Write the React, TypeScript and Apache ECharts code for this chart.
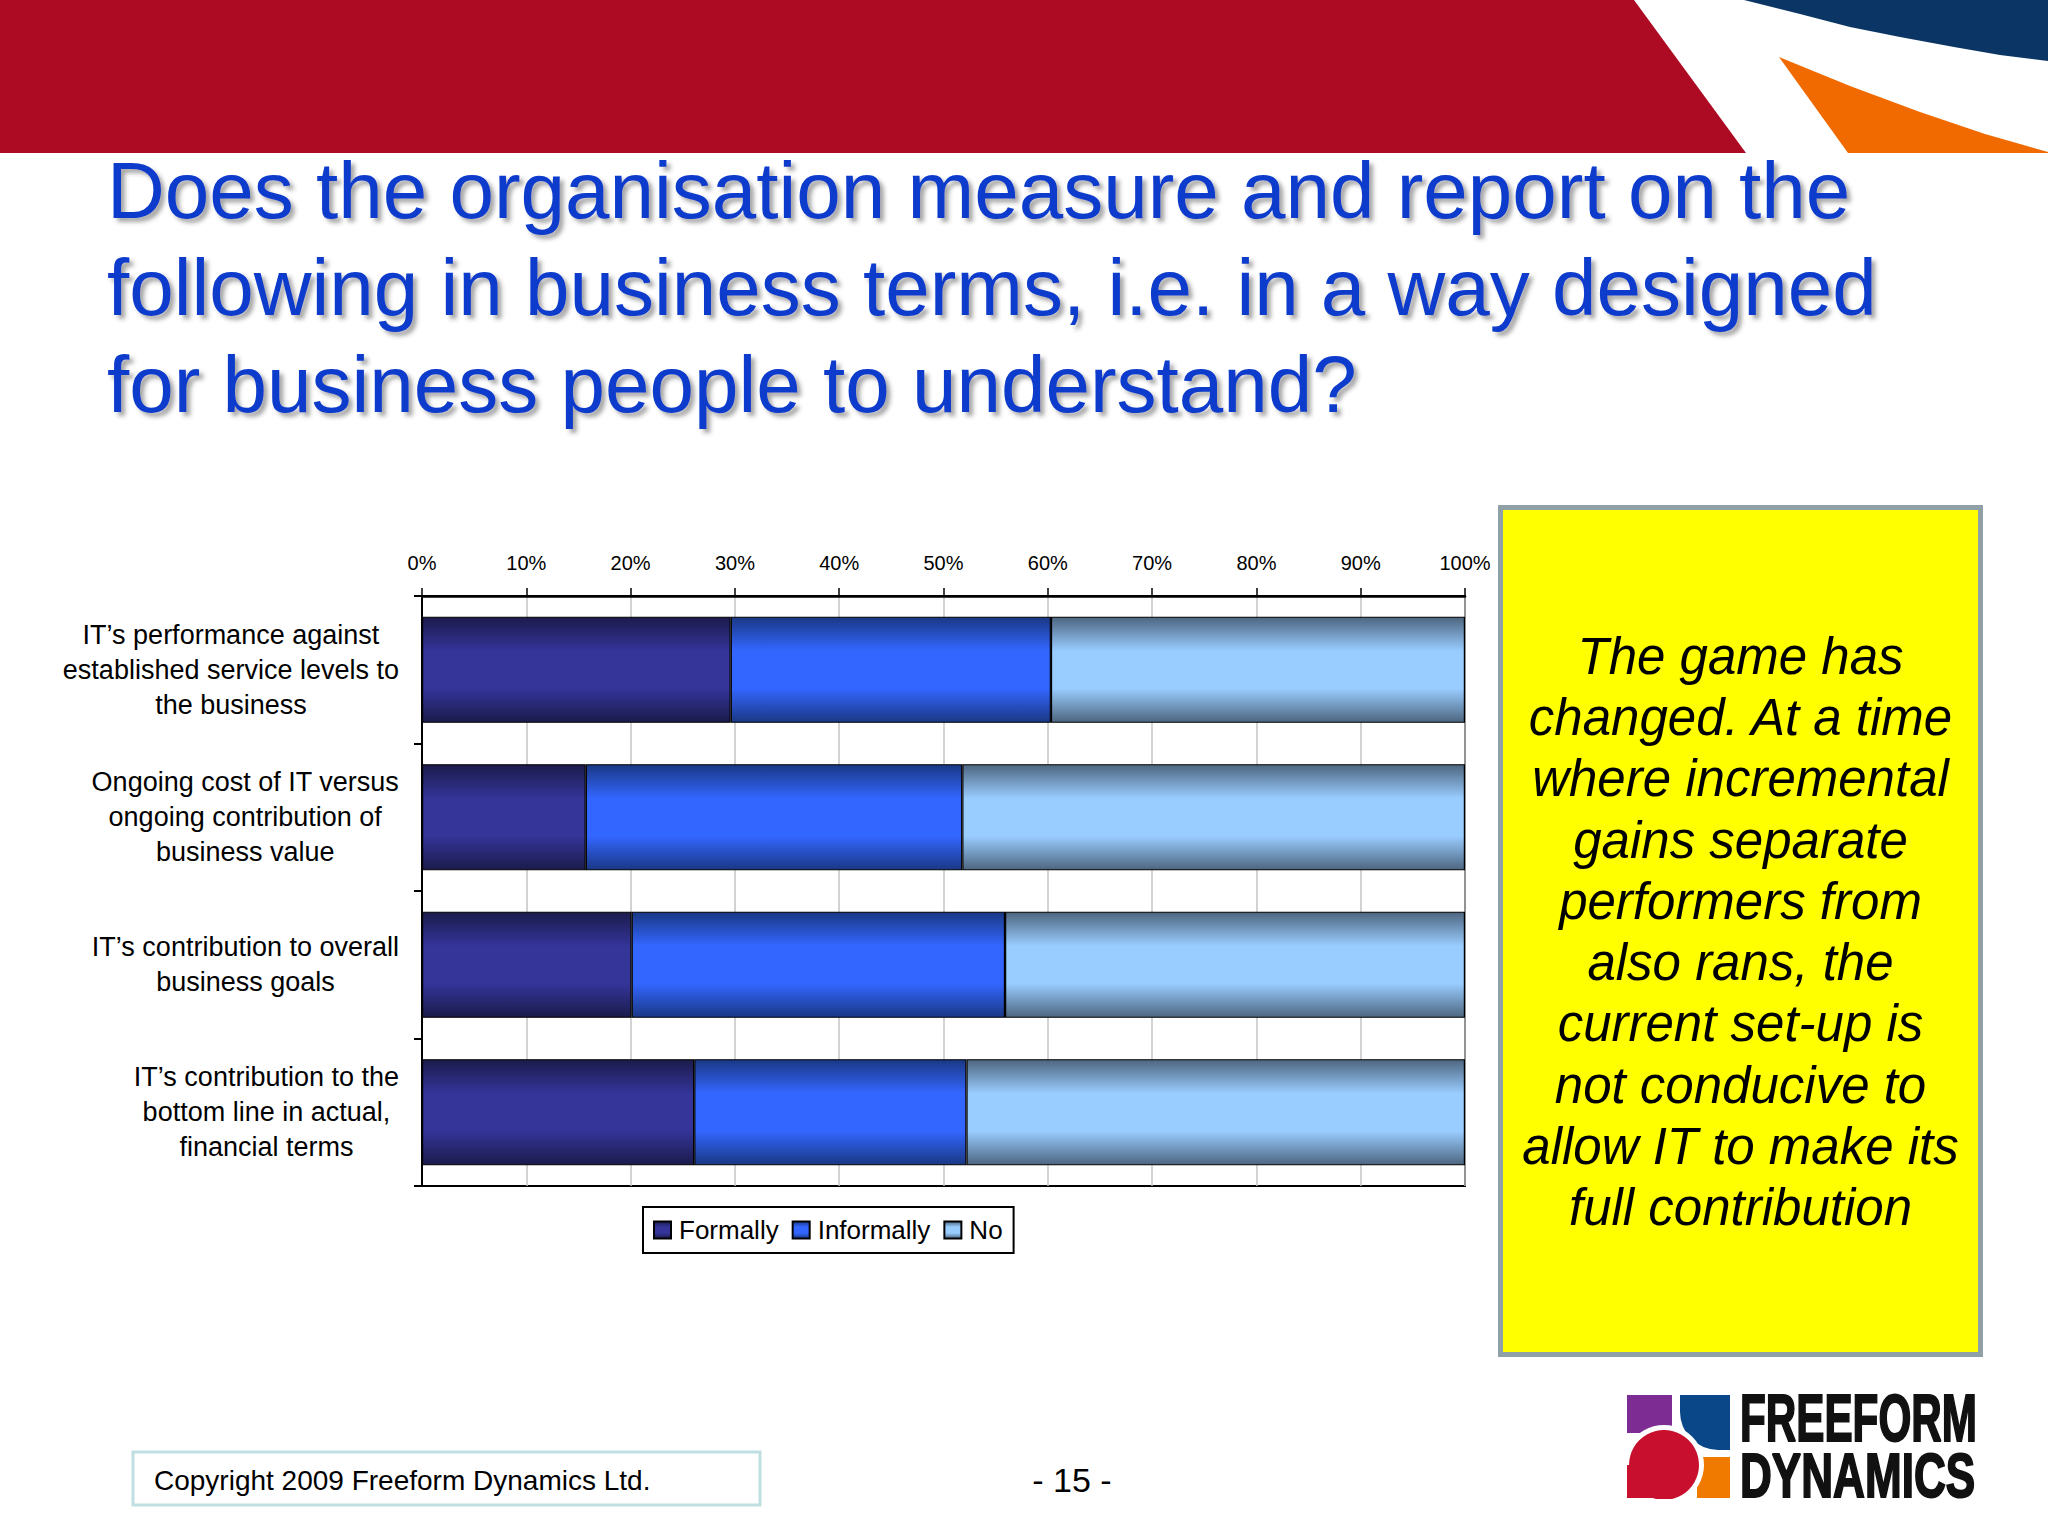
import React, { useEffect, useRef } from "react";
import * as echarts from "echarts";

const categories = [
  "IT’s performance against\nestablished service levels to\nthe business",
  "Ongoing cost of IT versus\nongoing contribution of\nbusiness value",
  "IT’s contribution to overall\nbusiness goals",
  "IT’s contribution to the\nbottom line in actual,\nfinancial terms",
];
const seriesNames = ["Formally", "Informally", "No"];
const formally = [29.6, 15.7, 20.1, 26.1];
const informally = [30.7, 36.1, 35.8, 26.1];
const no = [39.7, 48.2, 44.1, 47.8];

const titleLines = [
  "Does the organisation measure and report on the",
  "following in business terms, i.e. in a way designed",
  "for business people to understand?",
];
const calloutLines = [
  "The game has",
  "changed. At a time",
  "where incremental",
  "gains separate",
  "performers from",
  "also rans, the",
  "current set-up is",
  "not conducive to",
  "allow IT to make its",
  "full contribution",
];
const copyrightText = "Copyright 2009 Freeform Dynamics Ltd.";
const pageText = "- 15 -";

const FONT = "Liberation Sans, Arial, Helvetica, sans-serif";

function grad(edge: string, mid: string) {
  return new echarts.graphic.LinearGradient(0, 0, 0, 1, [
    { offset: 0, color: edge },
    { offset: 0.32, color: mid },
    { offset: 0.68, color: mid },
    { offset: 1, color: edge },
  ]);
}

export default function App() {
  const ref = useRef<HTMLDivElement>(null);
  useEffect(() => {
    document.body.style.margin = "0";
    const chart = echarts.init(ref.current!, null, { renderer: "svg" });
    const fills = [
      grad("#1b1b4c", "#343499"),
      grad("#1a3885", "#3366ff"),
      grad("#4d6680", "#99ccff"),
    ];
    const dataSets = [formally, informally, no];
    const txt = (x: number, y: number, style: any, extra: any = {}) => ({
      type: "text",
      x,
      y,
      ...extra,
      style: {
        fontFamily: FONT,
        fill: "#000",
        ...style,
        textAlign: style.align,
        textVerticalAlign: style.verticalAlign,
      },
    });
    const option: any = {
      animation: false,
      backgroundColor: "#ffffff",
      textStyle: { fontFamily: FONT },
      grid: {
        left: 422,
        top: 596,
        width: 1043,
        height: 590,
        containLabel: false,
        outerBoundsMode: "none",
        show: true,
        borderColor: "#000",
        borderWidth: 2,
        backgroundColor: "transparent",
      },
      xAxis: {
        type: "value",
        position: "top",
        min: 0,
        max: 100,
        interval: 10,
        axisLine: { show: true, lineStyle: { color: "#000", width: 2.5 } },
        axisTick: { show: true, length: 8, lineStyle: { color: "#000", width: 1.5 } },
        axisLabel: {
          formatter: "{value}%",
          fontSize: 20,
          color: "#000",
          margin: 23,
          fontFamily: FONT,
        },
        splitLine: { show: true, lineStyle: { color: "#c4c4c4", width: 1.5 } },
      },
      yAxis: {
        type: "category",
        data: categories,
        inverse: true,
        axisLine: { show: true, lineStyle: { color: "#000", width: 2 } },
        axisTick: { show: true, length: 8, lineStyle: { color: "#000", width: 2 } },
        axisLabel: {
          margin: 23,
          color: "#000",
          formatter: (v: string) => "{c|" + v + "}",
          rich: {
            c: {
              align: "center",
              fontSize: 27,
              lineHeight: 35,
              color: "#000",
              fontFamily: FONT,
            },
          },
        },
        splitLine: { show: false },
      },
      legend: {
        data: seriesNames,
        left: 643,
        top: 1207,
        orient: "horizontal",
        itemWidth: 17,
        itemHeight: 17,
        itemGap: 13,
        padding: [10, 11, 10, 10],
        borderColor: "#000",
        borderWidth: 2,
        icon: "rect",
        textStyle: { fontSize: 26, color: "#000", fontFamily: FONT, padding: [0, 0, 0, 3] },
      },
      series: seriesNames.map((name, i) => ({
        name,
        type: "bar",
        stack: "total",
        data: dataSets[i],
        barCategoryGap: "28%",
        itemStyle: { color: fills[i], borderColor: "#000", borderWidth: 1.2 },
        emphasis: { disabled: true },
      })),
      graphic: [
        // top banner
        {
          type: "polygon",
          shape: { points: [[0, 0], [1634, 0], [1746, 153], [0, 153]] },
          style: { fill: "#ad0b24" },
        },
        {
          type: "polygon",
          shape: {
            points: [[1744, 0], [1800, 14], [1850, 27], [1900, 37], [1954, 47], [2000, 55], [2048, 61], [2048, 0]],
          },
          style: { fill: "#0a3564" },
        },
        {
          type: "polygon",
          shape: {
            points: [[1779, 57], [1850, 86], [1920, 112], [1985, 134], [2048, 152], [2048, 153], [1848, 153]],
          },
          style: { fill: "#f06a00" },
        },
        // title
        txt(107, 287.6, {
          text: titleLines.join("\n"),
          fontSize: 80,
          lineHeight: 97,
          fill: "#0a3acc",
          align: "left",
          verticalAlign: "middle",
          textShadowColor: "rgba(60,60,60,0.45)",
          textShadowBlur: 4,
          textShadowOffsetX: 4,
          textShadowOffsetY: 4,
        }),
        // yellow callout
        {
          type: "rect",
          shape: { x: 1500.5, y: 507.5, width: 480, height: 847 },
          style: { fill: "#ffff00", stroke: "#8fa1a6", lineWidth: 5 },
        },
        txt(1740.5, 932, {
          text: calloutLines.join("\n"),
          fontSize: 51,
          fontStyle: "italic",
          lineHeight: 61.3,
          align: "center",
          verticalAlign: "middle",
        }),
        // copyright box
        {
          type: "rect",
          shape: { x: 133, y: 1452, width: 627, height: 53 },
          style: { fill: "#ffffff", stroke: "#bfdfe2", lineWidth: 3 },
        },
        txt(154, 1480, {
          text: copyrightText,
          fontSize: 28,
          align: "left",
          verticalAlign: "middle",
        }),
        txt(1072, 1480, {
          text: pageText,
          fontSize: 34,
          align: "center",
          verticalAlign: "middle",
        }),
        // logo
        {
          type: "rect",
          shape: { x: 1627, y: 1395, width: 45, height: 38 },
          style: { fill: "#7d2c94" },
        },
        {
          type: "rect",
          shape: { x: 1680, y: 1395, width: 50, height: 55, r: [0, 0, 0, 38] },
          style: { fill: "#0a4788" },
        },
        {
          type: "rect",
          shape: { x: 1697, y: 1457, width: 33, height: 41 },
          style: { fill: "#f07a00" },
        },
        {
          type: "circle",
          shape: { cx: 1664, cy: 1465, r: 40 },
          style: { fill: "#ffffff" },
        },
        {
          type: "rect",
          shape: { x: 1627, y: 1465, width: 37, height: 33 },
          style: { fill: "#c8102e" },
        },
        {
          type: "circle",
          shape: { cx: 1664, cy: 1465, r: 35 },
          style: { fill: "#c8102e" },
        },
        {
          type: "rect",
          shape: { x: 1620, y: 1499, width: 120, height: 10 },
          style: { fill: "#ffffff" },
        },
        txt(1740, 1418, {
          text: "FREEFORM",
          fontSize: 66,
          fontWeight: "bold",
          fill: "#111",
          stroke: "#111",
          lineWidth: 2,
          align: "left",
          verticalAlign: "middle",
        }, { scaleX: 0.64 }),
        txt(1740, 1476, {
          text: "DYNAMICS",
          fontSize: 63,
          fontWeight: "bold",
          fill: "#111",
          stroke: "#111",
          lineWidth: 2,
          align: "left",
          verticalAlign: "middle",
        }, { scaleX: 0.7 }),
      ],
    };
    chart.setOption(option);
    return () => chart.dispose();
  }, []);
  return <div ref={ref} style={{ width: 2048, height: 1536 }} />;
}
